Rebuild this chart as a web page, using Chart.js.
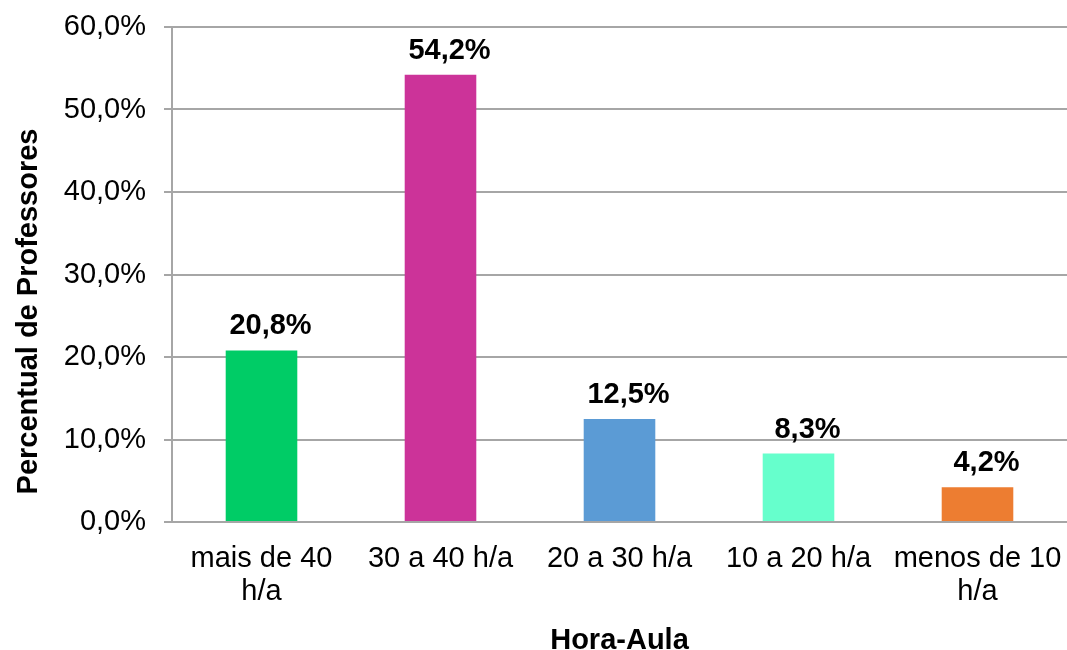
<!DOCTYPE html>
<html lang="pt">
<head>
  <meta charset="UTF-8">
  <title>Hora-Aula dos Professores</title>
  <style>
    html, body { margin: 0; padding: 0; background: #fff; }
    #wrap { width: 1067px; height: 650px; }
  </style>
</head>
<body>
  <div id="wrap"><canvas id="barChart" width="1067" height="650"></canvas></div>
  <script src="https://cdn.jsdelivr.net/npm/chart.js"></script>
  <script>
    // categorias e percentuais
    const categorias = [['mais de 40', 'h/a'], '30 a 40 h/a', '20 a 30 h/a', '10 a 20 h/a', ['menos de 10', 'h/a']];
    const percentuais = [20.8, 54.2, 12.5, 8.3, 4.2];
    const cores = ['#00CC66', '#CC3399', '#5B9BD5', '#66FFCC', '#ED7D31'];
    const yTicks = [0, 10, 20, 30, 40, 50, 60];
    const tituloY = 'Percentual de Professores';
    const tituloX = 'Hora-Aula';

    const fmt = (v, casas) => v.toFixed(casas).replace('.', ',') + '%';
    const fonte = '"Liberation Sans", Arial, sans-serif';

    // rótulos em cima das barras (levemente deslocados para a direita)
    const rotulos = {
      id: 'rotulos',
      afterDatasetsDraw(chart) {
        const ctx = chart.ctx;
        const meta = chart.getDatasetMeta(0);
        ctx.save();
        ctx.font = 'bold 29px ' + fonte;
        ctx.fillStyle = '#000';
        ctx.textAlign = 'center';
        ctx.textBaseline = 'alphabetic';
        meta.data.forEach((bar, i) => {
          ctx.fillText(fmt(percentuais[i], 1), bar.x + 9, bar.y - 16);
        });
        ctx.restore();
      }
    };

    // título do eixo Y, um pouco abaixo do centro da área do gráfico
    const tituloEixoY = {
      id: 'tituloEixoY',
      afterDraw(chart) {
        const ctx = chart.ctx;
        const area = chart.chartArea;
        ctx.save();
        ctx.translate(29, (area.top + area.bottom) / 2 + 37);
        ctx.rotate(-Math.PI / 2);
        ctx.font = 'bold 29px ' + fonte;
        ctx.fillStyle = '#000';
        ctx.textAlign = 'center';
        ctx.textBaseline = 'middle';
        ctx.fillText(tituloY, 0, 0);
        ctx.restore();
      }
    };

    new Chart(document.getElementById('barChart').getContext('2d'), {
      type: 'bar',
      data: {
        labels: categorias,
        datasets: [{
          data: percentuais,
          backgroundColor: cores,
          barPercentage: 0.4,
          categoryPercentage: 1
        }]
      },
      options: {
        responsive: false,
        animation: false,
        layout: { padding: { top: 27, right: 0, left: 0, bottom: 0 } },
        plugins: { legend: { display: false }, tooltip: { enabled: false } },
        scales: {
          x: {
            grid: { display: false },
            border: { color: '#A6A6A6', width: 2 },
            ticks: {
              color: '#000',
              font: { family: fonte, size: 29, lineHeight: 1.12 },
              padding: 13,
              maxRotation: 0,
              autoSkip: false
            },
            title: {
              display: true,
              text: tituloX,
              color: '#000',
              font: { family: fonte, size: 29, weight: 'bold', lineHeight: 0.6 },
              padding: { top: 0, bottom: 0 }
            },
            afterFit(scale) {
              scale.height = 128;
              scale.paddingLeft = 0;
              scale.paddingRight = 0;
            }
          },
          y: {
            min: 0,
            max: 60,
            afterBuildTicks(scale) { scale.ticks = yTicks.map(v => ({ value: v })); },
            grid: { color: '#A6A6A6', lineWidth: 2, tickLength: 8 },
            border: { color: '#A6A6A6', width: 2 },
            ticks: {
              color: '#000',
              font: { family: fonte, size: 29 },
              padding: 18,
              callback: v => fmt(v, 1)
            },
            afterFit(scale) {
              scale.width = 172;
              scale.paddingTop = 0;
              scale.paddingBottom = 0;
            }
          }
        }
      },
      plugins: [rotulos, tituloEixoY]
    });
  </script>
</body>
</html>
